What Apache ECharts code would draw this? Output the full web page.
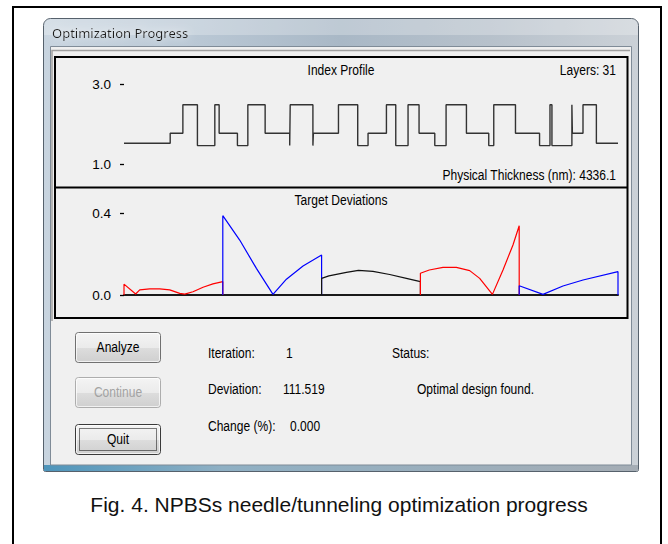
<!DOCTYPE html>
<html>
<head>
<meta charset="utf-8">
<script src="https://cdn.jsdelivr.net/npm/echarts@6/dist/echarts.min.js"></script>
<style>
  html, body { margin: 0; padding: 0; background: #ffffff; }
  #chart { width: 668px; height: 544px; }
</style>
</head>
<body>
<div id="chart"></div>
<script>
// ---- Coating design: index profile ----
const nSubstrate = 1.52;
const materialIndex = { H: 2.48, M: 1.77, L: 1.46 };
const layerMaterials = ['M','H','L','H','M','L','H','M','L','H','L','M','H','L','M','H',
                        'L','H','M','L','H','M','L','H','M','L','H','L','H','M','H'];
const layerThicknesses = [129, 148, 177, 44, 186, 106, 176, 250, 5, 231, 5, 255, 196, 105, 187, 95,
                          125, 112, 160, 115, 207, 227, 51, 221, 245, 106, 20, 203, 5, 108, 136.1];
const indexTicks = [1.0, 3.0];

// ---- Target deviations (x in target units, y = deviation) ----
const targetLabels = ['1', '2', '3', '4', '5'];
const deviationTicks = [0.0, 0.4];
const target1 = [[0.5, 0], [0.5, 0.053], [0.618, 0.005], [0.659, 0.025], [0.76, 0.03], [0.861, 0.03],
                 [0.963, 0.025], [1.064, 0.008], [1.115, 0.004], [1.198, 0.016], [1.30, 0.038],
                 [1.40, 0.054], [1.5, 0.065], [1.5, 0]];
const target2 = [[1.5, 0], [1.5, 0.387], [1.671, 0.268], [1.84, 0.13], [2.008, 0.003], [2.144, 0.077],
                 [2.312, 0.141], [2.5, 0.195], [2.5, 0]];
const target3 = [[2.5, 0], [2.5, 0.081], [2.574, 0.093], [2.751, 0.11], [2.873, 0.12], [3.02, 0.115],
                 [3.189, 0.10], [3.358, 0.081], [3.5, 0.065], [3.5, 0]];
const target4 = [[3.5, 0], [3.5, 0.106], [3.59, 0.122], [3.729, 0.135], [3.864, 0.135], [3.999, 0.119],
                 [4.10, 0.081], [4.229, 0.003], [4.336, 0.122], [4.437, 0.244], [4.5, 0.338], [4.5, 0]];
const target5 = [[4.5, 0], [4.5, 0.045], [4.741, 0.003], [4.943, 0.044], [5.146, 0.073], [5.5, 0.114], [5.5, 0]];

// ---- Optimizer status ----
const iterationCount = 1;
const deviationValue = 111.519;
const changePercent = 0.000;
const statusText = 'Optimal design found.';

// Build the stepped refractive-index profile from layer boundaries
const totalThickness = layerThicknesses.reduce((a, b) => a + b, 0);
const incidentShown = 470;   // nm of incident medium drawn before layer 1
const exitShown = 220;       // nm of exit medium drawn after the last layer
const profile = [[-incidentShown, nSubstrate]];
let z = 0;
layerMaterials.forEach((m, i) => {
  profile.push([z, materialIndex[m]]);
  z += layerThicknesses[i];
});
profile.push([totalThickness, nSubstrate]);
profile.push([totalThickness + exitShown, nSubstrate]);

// Dialog font: a sans face condensed horizontally
const UI = "'Liberation Sans',Arial,sans-serif";
const UI_SIZE = 14.5;
const UI_SQUEEZE = 0.83;
const txt = (text, x, y, opts = {}) => ({
  type: 'text', z: 5, x, y, scaleX: UI_SQUEEZE,
  style: Object.assign({
    text, x: 0, y: 0,
    fill: '#000',
    fontFamily: UI, fontSize: UI_SIZE,
    textAlign: 'left', textVerticalAlign: 'middle'
  }, opts)
});
const G = echarts.graphic;
const buttonFill = () => new G.LinearGradient(0, 0, 0, 1, [
  { offset: 0, color: '#f4f4f4' }, { offset: 0.5, color: '#ebebeb' },
  { offset: 0.51, color: '#dddddd' }, { offset: 1, color: '#cfcfcf' }
]);
const button = (label, y, opts = {}) => [
  { type: 'rect', z: 3, shape: { x: 75.5, y: y + 0.5, width: 85, height: 30, r: 3 },
    style: { fill: buttonFill(), stroke: opts.stroke || '#707070', lineWidth: 1 } },
  { type: 'rect', z: 3, shape: { x: 76.5, y: y + 1.5, width: 83, height: 28, r: 2 },
    style: { fill: 'none', stroke: 'rgba(255,255,255,0.7)', lineWidth: 1 } },
  txt(label, 118, y + 15.5, { textAlign: 'center', fill: opts.color || '#000' })
];

const chart = echarts.init(document.getElementById('chart'), null, { renderer: 'svg' });

const devSeries = [target1, target2, target3, target4, target5].map((d, i) => ({
  type: 'line', xAxisIndex: 1, yAxisIndex: 1, data: d,
  symbol: 'none', animation: false, z: 3,
  lineStyle: { width: 1.2, color: ['#ff0000', '#0000ff', '#111111', '#ff0000', '#0000ff'][i] }
}));

const axisFont = { color: '#000', fontFamily: UI, fontSize: 13.5 };

chart.setOption({
  animation: false,
  backgroundColor: '#ffffff',
  grid: [
    { left: 124, width: 494, top: 84, height: 80 },
    { left: 124, width: 494, top: 213, height: 82 }
  ],
  xAxis: [
    { type: 'value', gridIndex: 0, min: -incidentShown, max: totalThickness + exitShown,
      show: false },
    { type: 'value', gridIndex: 1, min: 0.5, max: 5.5, interval: 1,
      splitLine: { show: false }, axisTick: { show: false },
      axisLine: { show: true, onZero: false, lineStyle: { color: '#1a1a1a', width: 2 } },
      axisLabel: Object.assign({ margin: 5,
        formatter: v => (Number.isInteger(v) && v >= 1 && v <= 5) ? targetLabels[v - 1] : '' }, axisFont) }
  ],
  yAxis: [
    { type: 'value', gridIndex: 0, min: indexTicks[0], max: indexTicks[1], interval: 2,
      splitLine: { show: false }, axisLine: { show: false, onZero: false },
      axisTick: { show: true, length: 4, lineStyle: { color: '#000', width: 1.3 } },
      axisLabel: Object.assign({ margin: 13, formatter: v => v.toFixed(1) }, axisFont) },
    { type: 'value', gridIndex: 1, min: deviationTicks[0], max: deviationTicks[1], interval: 0.4,
      splitLine: { show: false }, axisLine: { show: false, onZero: false },
      axisTick: { show: true, length: 4, lineStyle: { color: '#000', width: 1.3 } },
      axisLabel: Object.assign({ margin: 13, formatter: v => v.toFixed(1) }, axisFont) }
  ],
  series: [
    { type: 'line', xAxisIndex: 0, yAxisIndex: 0, data: profile, step: 'end',
      symbol: 'none', z: 3, lineStyle: { width: 1.4, color: '#333333' } },
    ...devSeries
  ],
  graphic: { elements: [
    // figure frame
    { type: 'rect', z: -10, shape: { x: 13, y: 7, width: 648, height: 580 },
      style: { fill: '#fff', stroke: '#000', lineWidth: 2 } },
    // dialog window frame
    { type: 'rect', z: -9, shape: { x: 43.5, y: 18.5, width: 595, height: 453, r: [7, 7, 2, 2] },
      style: { stroke: '#56616c', lineWidth: 1,
        fill: new G.LinearGradient(0, 0, 1, 0, [
          { offset: 0, color: '#c8d4df' }, { offset: 0.25, color: '#bac8d5' },
          { offset: 0.5, color: '#a9b8c6' }, { offset: 0.75, color: '#b7c1cb' },
          { offset: 1, color: '#cbd1d7' }]) } },
    { type: 'rect', z: -8, shape: { x: 44, y: 19, width: 594, height: 16, r: [6, 6, 0, 0] },
      style: { fill: 'rgba(255,255,255,0.25)' } },
    { type: 'rect', z: -8, shape: { x: 44, y: 465, width: 594, height: 6 },
      style: { fill: new G.LinearGradient(0, 0, 1, 0, [
        { offset: 0, color: '#4e95bb' }, { offset: 0.3, color: '#8fb0c4' },
        { offset: 1, color: '#a5adb5' }]) } },
    // client area
    { type: 'rect', z: -7, shape: { x: 50.5, y: 46.5, width: 581, height: 418.5 },
      style: { fill: '#f0f0f0', stroke: '#7f8b97', lineWidth: 1 } },
    // sunken edge and plot panel
    { type: 'polyline', z: -6, shape: { points: [[52, 321], [52, 50.5], [630, 50.5]] },
      style: { fill: 'none', stroke: '#a0a0a0', lineWidth: 1.5 } },
    { type: 'rect', z: -5, shape: { x: 55, y: 57, width: 572.5, height: 261 },
      style: { fill: '#f0f0f0', stroke: '#000', lineWidth: 2 } },
    { type: 'line', z: -4, shape: { x1: 55, y1: 187.5, x2: 627.5, y2: 187.5 },
      style: { stroke: '#000', lineWidth: 2 } },
    // window title
    { type: 'text', z: 5, style: { text: 'Optimization Progress', x: 52, y: 33,
      fontFamily: "'Noto Sans','Open Sans',sans-serif", fontSize: 13, fill: '#1b1b1b',
      textVerticalAlign: 'middle', textShadowColor: 'rgba(255,255,255,0.9)', textShadowBlur: 8 } },
    // plot captions
    txt('Index Profile', 341, 70, { textAlign: 'center' }),
    txt('Layers: ' + layerMaterials.length, 616, 70, { textAlign: 'right' }),
    txt('Physical Thickness (nm): ' + totalThickness.toFixed(1), 616, 175, { textAlign: 'right' }),
    txt('Target Deviations', 341, 200.5, { textAlign: 'center' }),
    // buttons
    ...button('Analyze', 332),
    ...button('Continue', 377, { color: '#a3a3a3', stroke: '#adadad' }),
    ...button('Quit', 424, { stroke: '#3a3a3a' }),
    { type: 'rect', z: 4, shape: { x: 79.5, y: 428.5, width: 77, height: 22 },
      style: { fill: 'none', stroke: '#000', lineWidth: 1, lineDash: [1, 1] } },
    // status read-outs
    txt('Iteration:', 208, 353),
    txt(String(iterationCount), 286, 353),
    txt('Deviation:', 208, 389),
    txt(deviationValue.toFixed(3), 283, 389),
    txt('Change (%):', 208, 426),
    txt(changePercent.toFixed(3), 290, 426),
    txt('Status:', 392, 353),
    txt(statusText, 417, 389),
    // figure caption
    { type: 'text', z: 5, style: { text: 'Fig. 4. NPBSs needle/tunneling optimization progress',
      x: 339, y: 504, textAlign: 'center', textVerticalAlign: 'middle',
      fontFamily: "'Liberation Sans',Arial,sans-serif", fontSize: 21, fill: '#111' } }
  ] }
});
</script>
</body>
</html>
